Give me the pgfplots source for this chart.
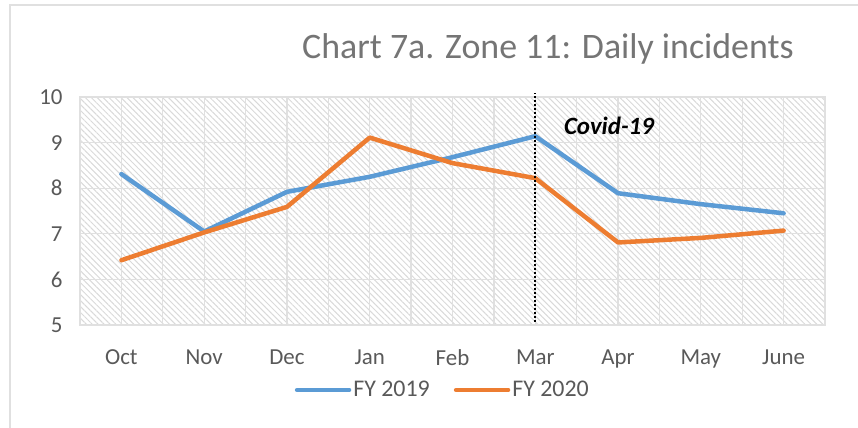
\documentclass[border=0pt]{standalone}
\usepackage{pgfplots}
\pgfplotsset{compat=1.18}
\usepackage{fontspec}
\setmainfont{Carlito}
\usetikzlibrary{patterns.meta}

\definecolor{fyblue}{HTML}{5B9BD5}
\definecolor{fyorange}{HTML}{ED7D31}
\definecolor{ticktext}{HTML}{595959}
\definecolor{titletext}{HTML}{757575}
\definecolor{gridgray}{HTML}{E0E0E0}
\definecolor{hatchgray}{HTML}{D9D9D9}

\begin{document}
\begin{tikzpicture}
\path[use as bounding box] (0bp,0bp) rectangle (858bp,428bp);
\draw[gridgray, line width=1.5bp] (10bp,0bp) -- (10bp,423bp) -- (858bp,423bp);

\begin{axis}[
    at={(80bp,103bp)}, anchor=south west,
    scale only axis, width=745bp, height=228bp,
    xmin=-0.5, xmax=8.5, ymin=5, ymax=10,
    xtick={0,...,8},
    xticklabels={Oct,Nov,Dec,Jan,Feb,Mar,Apr,May,June},
    minor xtick={-0.5,0.5,...,8.5},
    ytick={5,...,10},
    xmajorgrids, xminorgrids, ymajorgrids,
    grid style={draw=gridgray, line width=1.3bp},
    minor grid style={draw=gridgray, line width=1.3bp},
    axis line style={draw=gridgray, line width=1.3bp},
    major tick length=0pt, minor tick length=0pt,
    axis background/.style={pattern={Lines[angle=-45, distance=4.2bp, line width=1bp]}, pattern color=hatchgray},
    /pgf/number format/assume math mode=true,
    tick label style={font=\fontsize{23}{26}\selectfont, text=ticktext},
    xticklabel style={yshift=-21bp},
    yticklabel style={xshift=-14bp},
    clip=false,
    legend columns=2,
    legend style={at={(axis description cs:0.487,-0.285)}, anchor=center,
        draw=none, fill=none, font=\fontsize{24}{26}\selectfont, text=ticktext,
        /tikz/every even column/.append style={column sep=22bp}},
    legend image code/.code={\draw[#1, line cap=round] (0bp,0bp) -- (52bp,0bp);},
    every axis plot/.append style={line width=4.5bp, line cap=round, line join=round},
]

\addplot[color=fyblue] coordinates {
    (0,8.31)(1,7.05)(2,7.92)(3,8.25)(4,8.68)(5,9.14)(6,7.89)(7,7.65)(8,7.45)
};
\addlegendentry{FY 2019}
\addplot[color=fyorange] coordinates {
    (0,6.42)(1,7.03)(2,7.59)(3,9.11)(4,8.55)(5,8.22)(6,6.81)(7,6.91)(8,7.07)
};
\addlegendentry{FY 2020}

\draw[black, line width=2bp, dash pattern=on 2bp off 2bp] (axis cs:5,5.07) -- (axis cs:5,10.09);
\node[font=\fontsize{25}{28}\selectfont\bfseries\itshape] at (axis cs:5.89,9.36) {Covid-19};
\end{axis}

\node[font=\fontsize{36}{40}\selectfont, text=titletext] at (548bp,379bp) {Chart 7a. Zone 11: Daily incidents};
\end{tikzpicture}
\end{document}
